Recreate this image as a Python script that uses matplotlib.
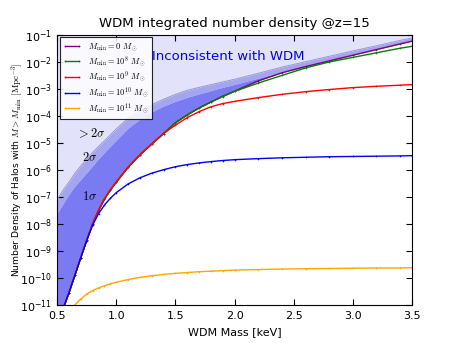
import numpy as np
import matplotlib
matplotlib.use('Agg')
import matplotlib.pyplot as plt

# WDM particle mass [keV]
mass = [0.50, 0.55, 0.60, 0.65, 0.70, 0.75, 0.80, 0.85, 0.90, 0.95, 1.00,
        1.10, 1.20, 1.30, 1.40, 1.50, 1.60, 1.70, 1.80, 1.90, 2.00,
        2.20, 2.40, 2.60, 2.80, 3.00, 3.20, 3.40, 3.50]

# log10 of integrated number density [Mpc^-3]
logn_m0 = [-12.6, -11.15, -10.55, -9.9, -9.25, -8.6, -8.0, -7.5, -7.08, -6.74, -6.45,
           -5.90, -5.44, -5.04, -4.65, -4.25, -3.96, -3.70, -3.48, -3.27, -3.08,
           -2.70, -2.40, -2.17, -1.96, -1.75, -1.54, -1.33, -1.23]
logn_m8 = [-12.6, -11.15, -10.55, -9.9, -9.25, -8.6, -8.0, -7.5, -7.08, -6.74, -6.45,
           -5.90, -5.44, -5.04, -4.65, -4.25, -3.96, -3.71, -3.49, -3.28, -3.09,
           -2.78, -2.50, -2.22, -2.00, -1.83, -1.66, -1.49, -1.42]
logn_m9 = [-12.6, -11.15, -10.55, -9.9, -9.25, -8.6, -8.0, -7.5, -7.08, -6.74, -6.45,
           -5.90, -5.44, -5.04, -4.65, -4.34, -4.06, -3.84, -3.66, -3.54, -3.46,
           -3.32, -3.20, -3.10, -3.02, -2.95, -2.90, -2.86, -2.84]
logn_m10 = [-12.6, -11.15, -10.55, -9.9, -9.25, -8.62, -8.05, -7.62, -7.30, -7.05, -6.84,
            -6.52, -6.29, -6.12, -5.99, -5.88, -5.80, -5.74, -5.69, -5.65, -5.62,
            -5.58, -5.55, -5.53, -5.51, -5.50, -5.49, -5.48, -5.47]
logn_m11 = [-12.5, -12.0, -11.4, -11.0, -10.78, -10.6, -10.47, -10.37, -10.29, -10.22, -10.16,
            -10.06, -9.98, -9.92, -9.87, -9.83, -9.80, -9.77, -9.75, -9.73, -9.71,
            -9.69, -9.67, -9.66, -9.65, -9.64, -9.63, -9.63, -9.62]

# observational limits (upper edges of the 1 and 2 sigma bands)
logn_1sig = [-7.6, -7.25, -6.9, -6.6, -6.35, -6.1, -5.85, -5.58, -5.35, -5.12, -4.9,
             -4.45, -4.12, -3.85, -3.63, -3.46, -3.31, -3.18, -3.06, -2.94, -2.83,
             -2.60, -2.37, -2.15, -1.94, -1.74, -1.53, -1.30, -1.17]
logn_2sig = [-7.1, -6.75, -6.45, -6.12, -5.85, -5.6, -5.35, -5.13, -4.92, -4.7, -4.48,
             -4.08, -3.80, -3.58, -3.38, -3.20, -3.05, -2.94, -2.84, -2.74, -2.64,
             -2.42, -2.19, -1.99, -1.79, -1.59, -1.40, -1.20, -1.11]

labels = [r'$M_{\rm min}=0\ M_\odot$', r'$M_{\rm min}=10^8\ M_\odot$',
          r'$M_{\rm min}=10^9\ M_\odot$', r'$M_{\rm min}=10^{10}\ M_\odot$',
          r'$M_{\rm min}=10^{11}\ M_\odot$']
colors = ['purple', 'green', 'red', 'blue', 'orange']

x = np.array(mass)
curves = [np.power(10.0, c) for c in [logn_m0, logn_m8, logn_m9, logn_m10, logn_m11]]
sig1 = np.power(10.0, logn_1sig)
sig2 = np.power(10.0, logn_2sig)
ytop = 1e-1

fig = plt.figure(figsize=(4.57, 3.43), dpi=100)
ax = fig.add_axes([0.125, 0.111, 0.7765, 0.787])

# shaded exclusion regions
ax.fill_between(x, sig2, ytop, color='#e2e2fa', lw=0)
ax.fill_between(x, sig1, sig2, color='#a4a4f0', lw=0)
ax.fill_between(x, curves[0], sig1, color='#7a7af2', lw=0)
ax.plot(x, sig2, color='#9a9acc', lw=0.7)

for c, col, lab in zip(curves, colors, labels):
    ax.plot(x, c, color=col, lw=1.0, marker='+', ms=2, mew=0.4, label=lab)

ax.set_yscale('log')
ax.set_xlim(0.5, 3.5)
ax.set_ylim(1e-11, 1e-1)
ax.set_xticks([0.5, 1.0, 1.5, 2.0, 2.5, 3.0, 3.5])
ax.set_yticks([10.0**k for k in range(-11, 0)])
ax.tick_params(which='both', direction='in', top=True, right=True, labelsize=8)
ax.tick_params(which='major', length=4)
ax.tick_params(which='minor', length=2)
ax.tick_params(axis='x', pad=4.5)

ax.set_title('WDM integrated number density @z=15', fontsize=9.5)
ax.set_xlabel('WDM Mass [keV]', fontsize=8)
ax.set_ylabel(r'Number Density of Halos with $M>M_{\rm min}$ $[{\rm Mpc}^{-3}]$',
              fontsize=6.6, math_fontfamily='cm')
ax.yaxis.set_label_coords(-0.09, 0.5)

ax.text(1.3, 10**-1.81, 'Inconsistent with WDM', color='blue', fontsize=9.5, va='center')
ax.text(0.66, 10**-4.63, r'$>2\sigma$', fontsize=9, math_fontfamily='cm', va='center')
ax.text(0.71, 10**-5.55, r'$2\sigma$', fontsize=9, math_fontfamily='cm', va='center')
ax.text(0.71, 10**-7.0, r'$1\sigma$', fontsize=9, math_fontfamily='cm', va='center')

leg = ax.legend(loc='upper left', numpoints=2,
                prop={'size': 6, 'math_fontfamily': 'cm'}, fancybox=False,
                framealpha=0.85, edgecolor='black', borderaxespad=0.3,
                handlelength=2.2, labelspacing=0.12, borderpad=0.4)
leg.get_frame().set_linewidth(0.8)

plt.savefig('out.png', dpi=100)
